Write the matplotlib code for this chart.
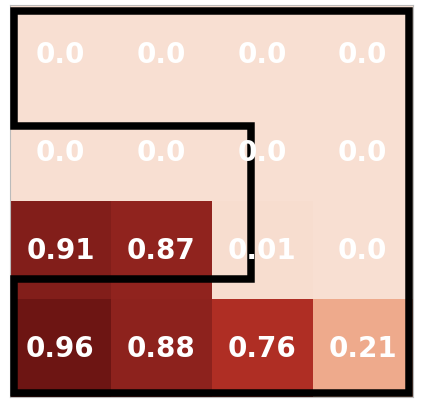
import numpy as np
import matplotlib
matplotlib.use("Agg")
import matplotlib.pyplot as plt
from matplotlib.patches import Polygon
from matplotlib.colors import LinearSegmentedColormap

# -------------------------------------------------
# Data
# -------------------------------------------------

values = np.array([
    [0.0, 0.0, 0.0, 0.0],
    [0.0, 0.0, 0.0, 0.0],
    [0.91, 0.87, 0.01, 0.0],
    [0.96, 0.88, 0.76, 0.21],
])

labels = [
    ["0.0", "0.0", "0.0", "0.0"],
    ["0.0", "0.0", "0.0", "0.0"],
    ["0.91", "0.87", "0.01", "0.0"],
    ["0.96", "0.88", "0.76", "0.21"],
]

# outline of the highlighted region (data coordinates)
outline_x = [-0.46, 3.46, 3.46, -0.46, -0.46, 1.89, 1.89, -0.46]
outline_y = [-0.44, -0.44, 3.46, 3.46, 2.30, 2.30, 0.73, 0.73]

# -------------------------------------------------
# Colour map (muted reds)
# -------------------------------------------------

cmap = LinearSegmentedColormap.from_list("muted_reds", [
    (0.0, (248 / 255, 223 / 255, 210 / 255)),
    (0.21, (238 / 255, 170 / 255, 140 / 255)),
    (0.76, (176 / 255, 47 / 255, 37 / 255)),
    (0.88, (142 / 255, 35 / 255, 30 / 255)),
    (0.96, (110 / 255, 22 / 255, 20 / 255)),
    (1.0, (100 / 255, 15 / 255, 15 / 255)),
])

# -------------------------------------------------
# Plot
# -------------------------------------------------

fig = plt.figure(figsize=(4.23, 4.10), dpi=100)
ax = fig.add_axes([10 / 423, 12 / 410, 403 / 423, 392 / 410])

ax.imshow(values, cmap=cmap, vmin=0.0, vmax=1.0, aspect="auto",
          interpolation="nearest")

for i in range(values.shape[0]):
    for j in range(values.shape[1]):
        ax.text(j, i, labels[i][j], ha="center", va="center",
                color="white", fontsize=20, fontweight="bold", zorder=4)

outline = Polygon(list(zip(outline_x, outline_y)), closed=True,
                  fill=False, edgecolor="black", linewidth=5.4,
                  joinstyle="miter", zorder=3)
ax.add_patch(outline)

ax.set_xlim(-0.5, 3.5)
ax.set_ylim(3.5, -0.5)
ax.set_xticks([])
ax.set_yticks([])
for spine in ax.spines.values():
    spine.set_color("#bbbbbb")
    spine.set_linewidth(0.8)

plt.savefig("out.png", dpi=100)
